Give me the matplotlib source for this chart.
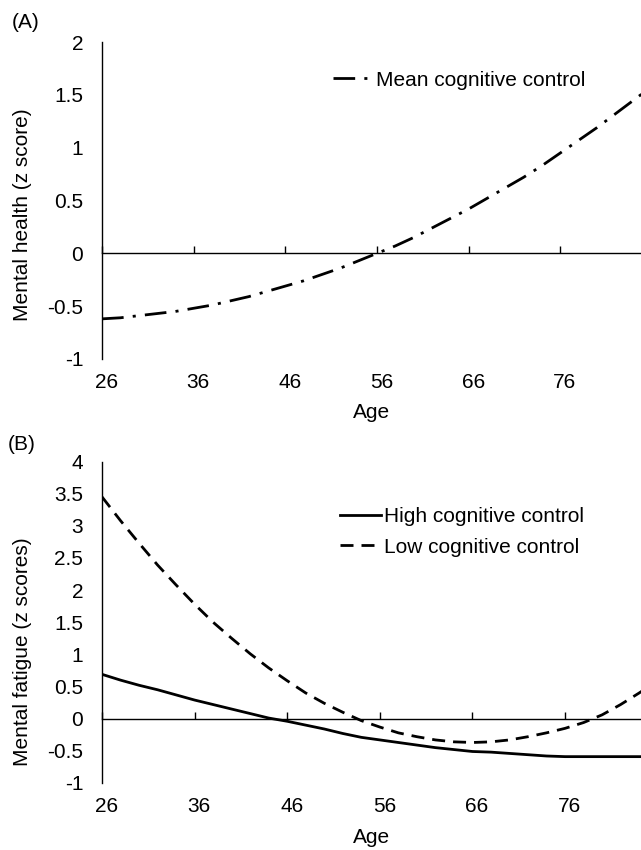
import matplotlib
matplotlib.use("Agg")
import matplotlib.pyplot as plt
import matplotlib.transforms as mtransforms

plt.rcParams['font.family'] = ['Liberation Sans', 'DejaVu Sans']
plt.rcParams['font.size'] = 15

# ---------------- data ----------------
ages = [26, 28, 30, 32, 34, 36, 38, 40, 42, 44, 46, 48, 50, 52, 54, 56,
        58, 60, 62, 64, 66, 68, 70, 72, 74, 76, 78, 80, 82, 84, 86]

mean_control = [-0.62, -0.61, -0.59, -0.57, -0.55, -0.52, -0.49, -0.45, -0.41,
                -0.36, -0.31, -0.26, -0.20, -0.14, -0.07, 0.00, 0.07, 0.15,
                0.24, 0.33, 0.42, 0.52, 0.62, 0.72, 0.83, 0.95, 1.07, 1.19,
                1.32, 1.45, 1.58]

high_control = [0.69, 0.60, 0.52, 0.45, 0.37, 0.29, 0.22, 0.15, 0.08, 0.01,
                -0.04, -0.10, -0.16, -0.23, -0.29, -0.33, -0.37, -0.41, -0.45,
                -0.48, -0.51, -0.52, -0.54, -0.56, -0.58, -0.59, -0.59, -0.59,
                -0.59, -0.59, -0.59]

low_control = [3.45, 3.08, 2.73, 2.39, 2.08, 1.78, 1.50, 1.25, 1.01, 0.79,
               0.59, 0.40, 0.24, 0.10, -0.03, -0.13, -0.22, -0.28, -0.33,
               -0.36, -0.37, -0.36, -0.33, -0.28, -0.22, -0.15, -0.06, 0.06,
               0.22, 0.40, 0.59]

x_ticks = [26, 36, 46, 56, 66, 76]
yticks_a = [-1, -0.5, 0, 0.5, 1, 1.5, 2]
yticks_b = [-1, -0.5, 0, 0.5, 1, 1.5, 2, 2.5, 3, 3.5, 4]

W, H = 641, 850
fig = plt.figure(figsize=(W / 100, H / 100), dpi=100)

LW = 2.0
dashdot = (0, (7.8, 3.3, 1.1, 3.3))
dashed = (0, (4.68, 2.88))

label_shift = mtransforms.ScaledTranslation(4.5 / 100, 0, fig.dpi_scale_trans)


def style_axes(ax, yticks, xmax, ylabel, ylab_y):
    ax.set_xlim(26, xmax)
    ax.set_ylim(yticks[0], yticks[-1])
    for s in ['top', 'right']:
        ax.spines[s].set_visible(False)
    ax.spines['left'].set_linewidth(1.0)
    ax.spines['bottom'].set_linewidth(1.0)
    ax.spines['bottom'].set_position(('data', 0))
    ax.set_yticks(yticks)
    ax.set_yticklabels([('%g' % v) for v in yticks])
    ax.tick_params(axis='y', length=0, pad=13.5, labelsize=15)
    ax.set_xticks(x_ticks)
    ax.tick_params(axis='x', direction='in', length=5, width=1.0,
                   labelbottom=False)
    sec = ax.secondary_xaxis('bottom')
    sec.set_xticks(x_ticks)
    sec.set_xticklabels([str(v) for v in x_ticks])
    sec.spines['bottom'].set_visible(False)
    sec.tick_params(length=0, pad=10, labelsize=15)
    for lab in sec.get_xticklabels():
        lab.set_transform(lab.get_transform() + label_shift)
    ax.set_xlabel('Age', fontsize=15)
    ax.xaxis.set_label_coords(0.5, -0.14)
    ax.set_ylabel(ylabel, fontsize=15, va='center')
    ax.yaxis.set_label_coords(-0.1475, ylab_y)
    ax.patch.set_visible(False)


# ---------------- Panel A ----------------
axA = fig.add_axes([102 / W, 1 - 359 / H, 539 / W, 317 / H])
style_axes(axA, yticks_a, 84.8, 'Mental health (z score)', 0.454)
axA.plot(ages, mean_control, color='black', lw=LW, linestyle=dashdot,
         label='Mean cognitive control')
axA.legend(loc='center left', bbox_to_anchor=(333 / W, 1 - 80 / H),
           bbox_transform=fig.transFigure, frameon=False, borderpad=0,
           borderaxespad=0, handlelength=1.75, handletextpad=0.3,
           fontsize=15)

# ---------------- Panel B ----------------
axB = fig.add_axes([102 / W, 1 - 783 / H, 539 / W, 321.5 / H])
style_axes(axB, yticks_b, 84.2, 'Mental fatigue (z scores)', 0.409)
axB.plot(ages, high_control, color='black', lw=LW, linestyle='-',
         label='High cognitive control')
axB.plot(ages, low_control, color='black', lw=LW, linestyle=dashed,
         label='Low cognitive control')
axB.legend(loc='center left', bbox_to_anchor=(340 / W, 1 - 532 / H),
           bbox_transform=fig.transFigure, frameon=False, borderpad=0,
           borderaxespad=0, handlelength=1.98, handletextpad=0.12,
           labelspacing=0.54, fontsize=15)

fig.text(12 / W, 1 - 23 / H, '(A)', ha='left', va='center', fontsize=15)
fig.text(8 / W, 1 - 444 / H, '(B)', ha='left', va='center', fontsize=15)

fig.savefig('out.png', dpi=100)
